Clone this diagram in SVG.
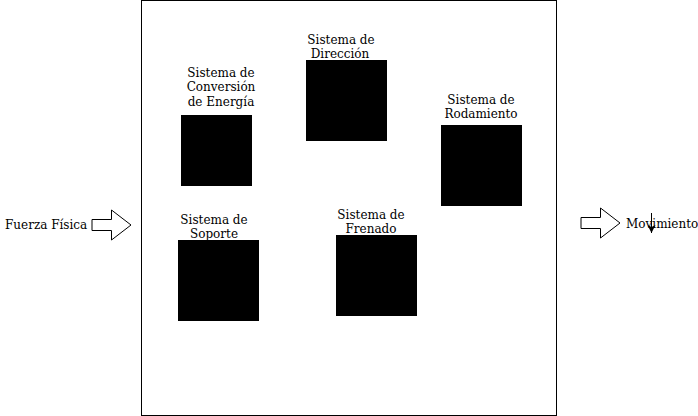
<svg xmlns="http://www.w3.org/2000/svg" width="698" height="416" viewBox="0 0 698 416">
<defs>
<style>
text{font-family:"DejaVu Serif",serif;font-size:12px;fill:#000}
.c{text-anchor:middle}
.box{fill:#000;stroke:#000}
.blk{fill:#fff;stroke:#000;stroke-width:1}
</style>
<marker id="ah" viewBox="0 0 10 10" refX="10" refY="5" markerWidth="8" markerHeight="8" orient="auto" markerUnits="userSpaceOnUse">
<path d="M0,0 L10,5 L0,10 L2.5,5 Z" fill="#000"/>
</marker>
</defs>
<rect width="698" height="416" fill="#fff"/>
<g id="frame"><rect x="141.5" y="0.5" width="415" height="415" fill="#fff" stroke="#000"/></g>
<g id="conversion"><rect class="box" x="181.5" y="115.5" width="70" height="70"/>
<text class="c" x="221" y="77">Sistema de</text><text class="c" x="221" y="91">Conversión</text><text class="c" x="221" y="106">de Energía</text></g>
<g id="direccion"><rect class="box" x="306.5" y="60.5" width="80" height="80"/>
<text class="c" x="341" y="44">Sistema de</text><text class="c" x="340" y="58">Dirección</text></g>
<g id="rodamiento"><rect class="box" x="441.5" y="125.5" width="80" height="80"/>
<text class="c" x="481" y="104">Sistema de</text><text class="c" x="481" y="118">Rodamiento</text></g>
<g id="soporte"><rect class="box" x="178.5" y="240.5" width="80" height="80"/>
<text class="c" x="214" y="224">Sistema de</text><text class="c" x="214" y="238">Soporte</text></g>
<g id="frenado"><rect class="box" x="336.5" y="235.5" width="80" height="80"/>
<text class="c" x="371" y="219">Sistema de</text><text class="c" x="371" y="233">Frenado</text></g>
<g id="input"><text x="5" y="229">Fuerza Física</text></g>
<g id="output"><text x="626" y="228">Movimiento</text></g>
<g id="connectors">
<path class="blk" d="M92,219.5 L111.5,219.5 L111.5,210 L131,225 L111.5,240 L111.5,230.5 L92,230.5 Z"/>
<path class="blk" d="M581,217.5 L600.5,217.5 L600.5,208 L620,223 L600.5,238 L600.5,228.5 L581,228.5 Z"/>
<line x1="651.5" y1="213" x2="651.5" y2="233" stroke="#000" marker-end="url(#ah)"/>
</g>
</svg>
